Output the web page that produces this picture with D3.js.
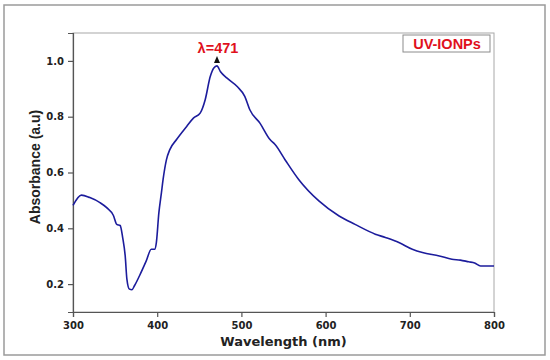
<!DOCTYPE html>
<html>
<head>
<meta charset="utf-8">
<script src="https://cdn.jsdelivr.net/npm/d3@7"></script>
<style>
  body { margin: 0; background: #fff; }
  svg { display: block; }
</style>
</head>
<body>
<svg id="chart" width="550" height="360"></svg>
<script>
// === Data ===
const wavelength = [300, 310, 320, 332, 340, 348, 352, 356, 359, 362, 364, 367, 370, 373, 379, 387, 393, 397, 399, 402,
  405, 407, 411, 415, 423, 435, 443, 451, 457, 463, 467, 471, 475, 483, 495, 504, 510, 522, 534, 540,
  552, 568, 592, 616, 635, 659, 671, 687, 703, 715, 735, 750, 760, 770, 777, 784, 800];
const absorbance = [0.482, 0.519, 0.510, 0.492, 0.474, 0.446, 0.414, 0.410, 0.367, 0.301, 0.218, 0.182, 0.180, 0.194, 0.230, 0.283, 0.325, 0.325, 0.349, 0.456,
  0.527, 0.575, 0.646, 0.682, 0.718, 0.765, 0.795, 0.813, 0.861, 0.944, 0.974, 0.982, 0.962, 0.938, 0.908, 0.873, 0.825, 0.777, 0.718, 0.700,
  0.645, 0.575, 0.498, 0.444, 0.414, 0.379, 0.367, 0.349, 0.325, 0.313, 0.301, 0.289, 0.286, 0.280, 0.276, 0.265, 0.265];
const xTicks = [300, 400, 500, 600, 700, 800];
const yTicks = [0.2, 0.4, 0.6, 0.8, 1.0];
const peakLabel = "λ=471";
const peakX = 471;
const legendLabel = "UV-IONPs";

const svg = d3.select("#chart");
const margin = { top: 33, right: 56, bottom: 48, left: 73 };
const width = 550 - margin.left - margin.right;
const height = 360 - margin.top - margin.bottom;

// outer frame
svg.append("rect").attr("x", 4).attr("y", 5).attr("width", 541).attr("height", 350)
  .attr("fill", "none").attr("stroke", "#9a9a9a").attr("stroke-width", 1.5);

const g = svg.append("g").attr("transform", `translate(${margin.left},${margin.top})`);

const x = d3.scaleLinear().domain([300, 800]).range([0, width]);
const y = d3.scaleLinear().domain([0.1, 1.1]).range([height, 0]);

// plot frame (top / right)
g.append("rect").attr("width", width).attr("height", height)
  .attr("fill", "none").attr("stroke", "#a8a8a8").attr("stroke-width", 1);

const xAxis = g.append("g").attr("transform", `translate(0,${height})`)
  .call(d3.axisBottom(x).tickValues(xTicks).tickSize(5).tickPadding(5).tickFormat(d3.format("d")));
const yAxis = g.append("g")
  .call(d3.axisLeft(y).tickValues(yTicks).tickSize(5).tickPadding(4).tickFormat(d3.format(".1f")));

[xAxis, yAxis].forEach(a => {
  a.select(".domain").attr("stroke", "#555").attr("stroke-width", 1.2);
  a.selectAll(".tick line").attr("stroke", "#555").attr("stroke-width", 1.2);
  a.selectAll("text").attr("fill", "#222").style("font-weight", "bold")
    .style("font-family", "DejaVu Sans").style("font-size", "10px");
});

// spectrum
const line = d3.line().x((d, i) => x(wavelength[i])).y(d => y(d)).curve(d3.curveMonotoneX);
g.append("path").datum(absorbance)
  .attr("fill", "none").attr("stroke", "#1c1c9c").attr("stroke-width", 1.6).attr("d", line);

// peak annotation
const px = x(peakX), py = y(d3.max(absorbance));
g.append("path")
  .attr("d", `M${px - 3},${py - 3} L${px + 3},${py - 3} L${px},${py - 10} Z`)
  .attr("fill", "#111");
g.append("text").attr("x", px + 1).attr("y", py - 13).attr("text-anchor", "middle")
  .style("font-family", "Liberation Sans").style("font-weight", "bold").style("font-size", "14.5px")
  .attr("fill", "#e0101c").text(peakLabel);

// legend box
const lg = g.append("g").attr("transform", `translate(${width - 91},2)`);
lg.append("rect").attr("width", 87).attr("height", 17)
  .attr("fill", "#fff").attr("stroke", "#8c8c8c").attr("stroke-width", 1);
lg.append("text").attr("x", 44).attr("y", 13.5).attr("text-anchor", "middle")
  .style("font-family", "Liberation Sans").style("font-weight", "bold").style("font-size", "14.5px")
  .attr("fill", "#e0101c").text(legendLabel);

// axis titles
svg.append("text").attr("x", margin.left + width / 2).attr("y", 346).attr("text-anchor", "middle")
  .style("font-family", "DejaVu Sans").style("font-weight", "bold").style("font-size", "13px")
  .attr("fill", "#222").text("Wavelength (nm)");
svg.append("text").attr("transform", "rotate(-90)")
  .attr("x", -167).attr("y", 40).attr("text-anchor", "middle")
  .style("font-family", "Liberation Sans").style("font-weight", "bold").style("font-size", "14px")
  .attr("fill", "#222").text("Absorbance (a.u)");
</script>
</body>
</html>
